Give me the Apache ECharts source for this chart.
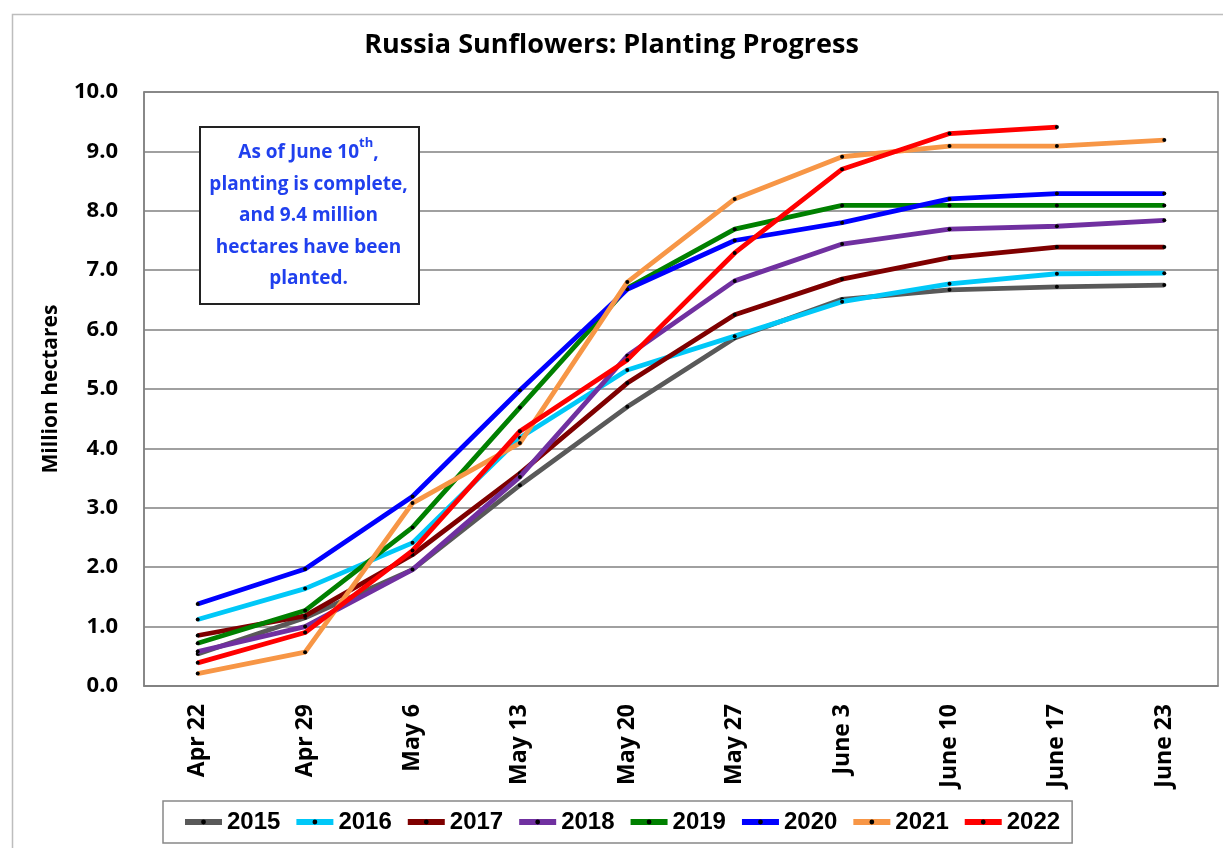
<!DOCTYPE html>
<html>
<head>
<meta charset="utf-8">
<script src="https://cdn.jsdelivr.net/npm/echarts@6/dist/echarts.min.js"></script>
<style>
html,body{margin:0;padding:0;background:#fff;}
#chart{width:1223px;height:848px;}
</style>
</head>
<body>
<div id="chart"></div>
<script>
const categories = ['Apr 22','Apr 29','May 6','May 13','May 20','May 27','June 3','June 10','June 17','June 23'];
const years = ['2015','2016','2017','2018','2019','2020','2021','2022'];
const colors = ['#595959','#00C8F8','#7F0000','#7030A0','#008000','#0000FF','#F79646','#FF0000'];
const v2015 = [0.54, 1.15, 1.96, 3.38, 4.70, 5.86, 6.51, 6.67, 6.72, 6.75];
const v2016 = [1.12, 1.64, 2.41, 4.18, 5.32, 5.89, 6.47, 6.77, 6.94, 6.95];
const v2017 = [0.85, 1.18, 2.21, 3.58, 5.10, 6.25, 6.85, 7.21, 7.39, 7.39];
const v2018 = [0.58, 1.00, 1.96, 3.52, 5.56, 6.82, 7.44, 7.69, 7.74, 7.84];
const v2019 = [0.72, 1.27, 2.67, 4.69, 6.70, 7.69, 8.09, 8.09, 8.09, 8.09];
const v2020 = [1.38, 1.97, 3.19, 4.98, 6.68, 7.50, 7.80, 8.20, 8.29, 8.29];
const v2021 = [0.21, 0.57, 3.08, 4.09, 6.80, 8.20, 8.91, 9.09, 9.09, 9.19];
const v2022 = [0.39, 0.90, 2.28, 4.29, 5.49, 7.29, 8.70, 9.30, 9.41, null];
const seriesValues = [v2015, v2016, v2017, v2018, v2019, v2020, v2021, v2022];
const yTicks = { min: 0, max: 10, interval: 1 };
const titleText = 'Russia Sunflowers: Planting Progress';
const yAxisName = 'Million hectares';
const noteText = 'As of June 10{sup|th},\nplanting is complete,\nand 9.4 million\nhectares have been\nplanted.';

const FONT = '"Open Sans", "Noto Sans", sans-serif';
const chart = echarts.init(document.getElementById('chart'), null, {renderer: 'canvas'});

const series = years.map((y, i) => ({
  name: y,
  type: 'line',
  data: seriesValues[i],
  symbol: 'circle',
  symbolSize: 4,
  showSymbol: true,
  connectNulls: false,
  lineStyle: { color: colors[i], width: 4.8 },
  itemStyle: { color: '#000', borderWidth: 0 },
  emphasis: { disabled: true },
  z: 3 + i
}));

const option = {
  backgroundColor: '#fff',
  animation: false,
  title: {
    text: titleText,
    left: 'center',
    top: 27,
    textStyle: { fontFamily: FONT, fontWeight: 'bold', fontSize: 27, color: '#000' }
  },
  grid: {
    left: 144, right: 5, top: 92, bottom: 162,
    show: true, borderColor: '#808080', borderWidth: 1.5, backgroundColor: 'transparent'
  },
  legend: {
    data: years.map((y, i) => ({ name: y, itemStyle: { color: '#000' }, lineStyle: { color: colors[i], width: 6 } })),
    left: 163,
    top: 801,
    padding: [9, 12, 9, 19],
    itemGap: 13,
    itemWidth: 37,
    itemHeight: 6,
    borderColor: '#888',
    borderWidth: 1.5,
    backgroundColor: '#fff',
    textStyle: { fontFamily: '"Liberation Sans", Arial, sans-serif', fontWeight: 'bold', fontSize: 24, color: '#000' }
  },
  xAxis: {
    type: 'category',
    data: categories,
    boundaryGap: true,
    axisLine: { show: true, lineStyle: { color: '#808080', width: 1.5 } },
    axisTick: { show: false },
    axisLabel: { rotate: 90, margin: 18, fontFamily: FONT, fontWeight: 'bold', fontSize: 23, color: '#000', interval: 0 },
    splitLine: { show: false }
  },
  yAxis: {
    type: 'value',
    min: yTicks.min, max: yTicks.max, interval: yTicks.interval,
    name: yAxisName,
    nameLocation: 'middle',
    nameGap: 82,
    nameTextStyle: { fontFamily: FONT, fontWeight: 'bold', fontSize: 21, color: '#000' },
    axisLine: { show: true, lineStyle: { color: '#808080', width: 1.5 } },
    axisTick: { show: false },
    axisLabel: { margin: 26, fontFamily: FONT, fontWeight: 'bold', fontSize: 22, color: '#000', formatter: v => v.toFixed(1) },
    splitLine: { show: true, lineStyle: { color: '#808080', width: 1.5 } }
  },
  graphic: [
    { type: 'rect', left: 10, top: 12, shape: { width: 1300, height: 900 }, style: { fill: 'none', stroke: '#bdbdbd', lineWidth: 1.5 }, z: 0, silent: true },
    { type: 'rect', left: 199, top: 126, shape: { width: 219, height: 177 }, style: { fill: '#fff', stroke: '#222', lineWidth: 2 }, z: 50, silent: true },
    { type: 'text', x: 308.5, y: 137, style: {
        text: noteText, align: 'center', verticalAlign: 'top',
        font: 'bold 19px ' + FONT, fill: '#2040EE', lineHeight: 31.5,
        rich: { sup: { font: 'bold 13px ' + FONT, fill: '#2040EE', verticalAlign: 'top', padding: [0,0,9,0], lineHeight: 31.5 } }
      }, z: 51, silent: true }
  ],
  series: series
};
chart.setOption(option);
</script>
</body>
</html>
